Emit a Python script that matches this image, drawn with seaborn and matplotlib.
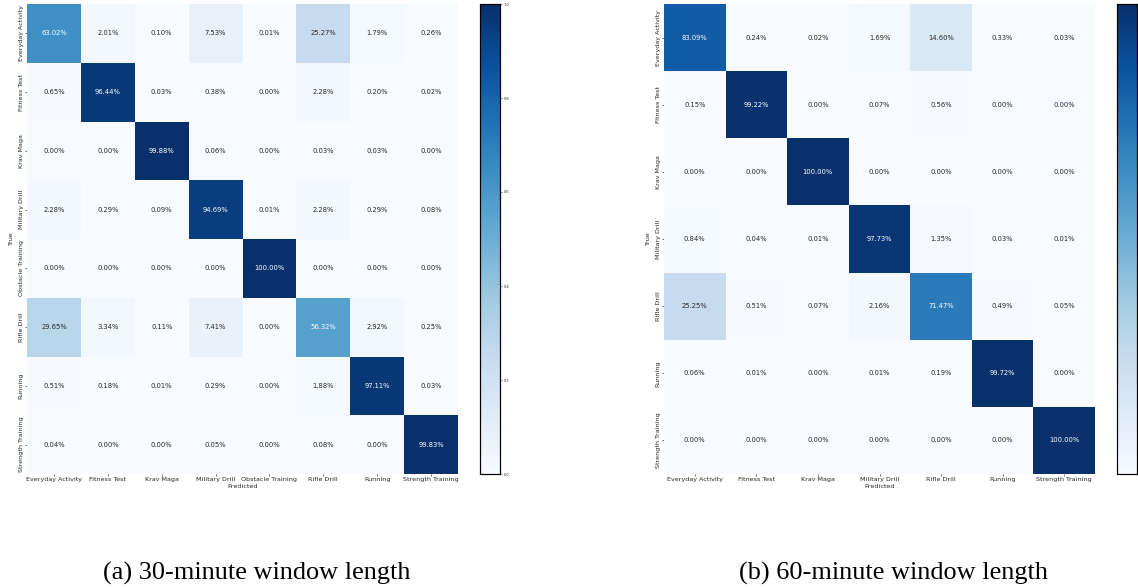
'''confusion matrices for 30 and 60 minute windows'''
import numpy as np
import seaborn as sns
import matplotlib.pyplot as plt

labels_30 = ['Everyday Activity', 'Fitness Test', 'Krav Maga', 'Military Drill',
             'Obstacle Training', 'Rifle Drill', 'Running', 'Strength Training']
labels_60 = ['Everyday Activity', 'Fitness Test', 'Krav Maga', 'Military Drill',
             'Rifle Drill', 'Running', 'Strength Training']

# rows = true class, columns = predicted class, in percent
cm_30 = [
    [63.02, 2.01, 0.10, 7.53, 0.01, 25.27, 1.79, 0.26],
    [0.65, 96.44, 0.03, 0.38, 0.00, 2.28, 0.20, 0.02],
    [0.00, 0.00, 99.88, 0.06, 0.00, 0.03, 0.03, 0.00],
    [2.28, 0.29, 0.09, 94.69, 0.01, 2.28, 0.29, 0.08],
    [0.00, 0.00, 0.00, 0.00, 100.00, 0.00, 0.00, 0.00],
    [29.65, 3.34, 0.11, 7.41, 0.00, 56.32, 2.92, 0.25],
    [0.51, 0.18, 0.01, 0.29, 0.00, 1.88, 97.11, 0.03],
    [0.04, 0.00, 0.00, 0.05, 0.00, 0.08, 0.00, 99.83],
]
cm_60 = [
    [83.09, 0.24, 0.02, 1.69, 14.60, 0.33, 0.03],
    [0.15, 99.22, 0.00, 0.07, 0.56, 0.00, 0.00],
    [0.00, 0.00, 100.00, 0.00, 0.00, 0.00, 0.00],
    [0.84, 0.04, 0.01, 97.73, 1.35, 0.03, 0.01],
    [25.25, 0.51, 0.07, 2.16, 71.47, 0.49, 0.05],
    [0.06, 0.01, 0.00, 0.01, 0.19, 99.72, 0.00],
    [0.00, 0.00, 0.00, 0.00, 0.00, 0.00, 100.00],
]

captions = ['(a) 30-minute window length', '(b) 60-minute window length']

sns.set_theme(style='white')

fig = plt.figure(figsize=(11.38, 5.88), dpi=100)

W, H = 1138.0, 588.0
fs = 4.6
panels = [
    (cm_30, labels_30, 27, 480, 257, True),
    (cm_60, labels_60, 664, 1117, 893, False),
]

for i, (cm, labels, x0, cx0, capx, cbar_ticks) in enumerate(panels):
    arr = np.array(cm)
    annot = np.array([['%.2f%%' % v for v in row] for row in arr])
    ax = fig.add_axes([x0 / W, 114 / H, 431 / W, 470 / H])
    cax = fig.add_axes([cx0 / W, 114 / H, 20 / W, 470 / H])
    sns.heatmap(arr / 100.0, annot=annot, fmt='', cmap='Blues', vmin=0, vmax=1,
                xticklabels=labels, yticklabels=labels, ax=ax, cbar_ax=cax,
                annot_kws={'fontsize': 4.9})
    ax.tick_params(axis='both', which='both', length=1.5, width=0.5, pad=1,
                   labelsize=fs, bottom=True, left=True, color='#333333')
    plt.setp(ax.get_xticklabels(), rotation=0, ha='center')
    plt.setp(ax.get_yticklabels(), rotation=90, va='center')
    ax.set_xlabel('Predicted', fontsize=fs)
    ax.set_ylabel('True', fontsize=fs)
    ax.xaxis.set_label_coords(0.5, -0.022)
    ax.yaxis.set_label_coords(-0.03, 0.5)

    cax.tick_params(length=1.5, width=0.4, labelsize=2.5, pad=1)
    if not cbar_ticks:
        cax.set_yticklabels([])
        cax.tick_params(length=0)
    for s in cax.spines.values():
        s.set_visible(True)
        s.set_color('black')
        s.set_linewidth(0.8)

    fig.text(capx / W, 1 - 573 / H, captions[i], ha='center', va='center',
             fontsize=18.9, family='Liberation Serif', color='black')

fig.savefig('out.png', dpi=100)
